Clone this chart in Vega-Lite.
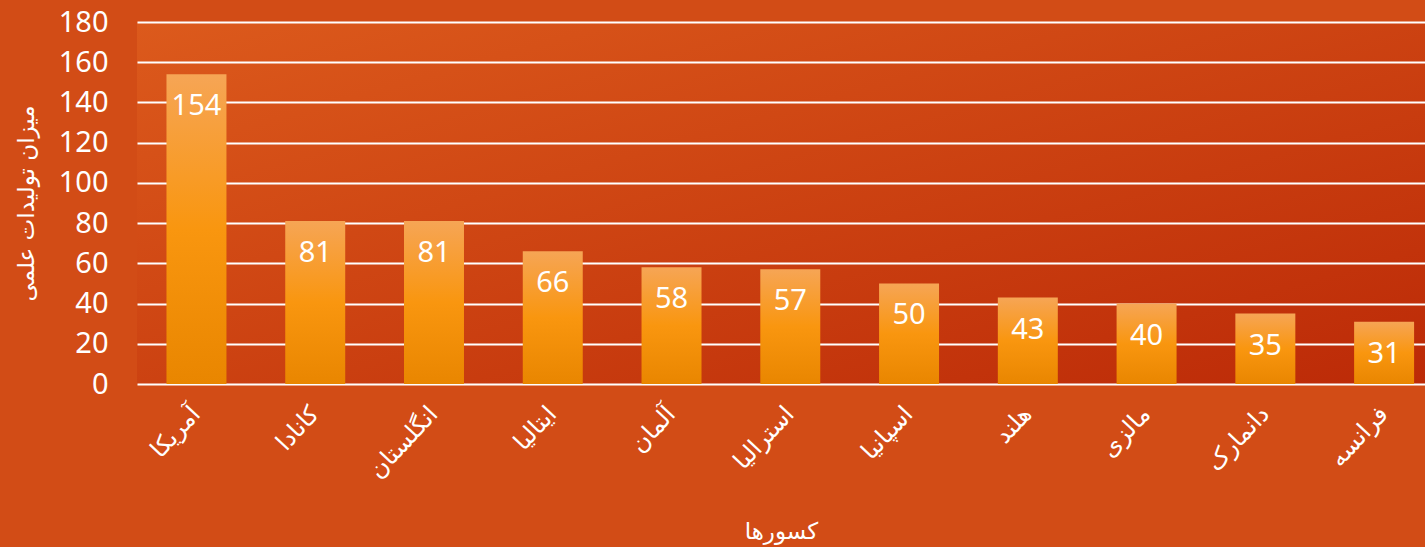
{
  "$schema": "https://vega.github.io/schema/vega-lite/v6.json",
  "width": 1288,
  "height": 362,
  "autosize": {"type": "none"},
  "padding": {"left": 137, "top": 22, "right": 0, "bottom": 163},
  "background": "#D24C16",
  "data": {
    "values": [
      {"country": "آمریکا", "value": 154},
      {"country": "کانادا", "value": 81},
      {"country": "انگلستان", "value": 81},
      {"country": "ایتالیا", "value": 66},
      {"country": "آلمان", "value": 58},
      {"country": "استرالیا", "value": 57},
      {"country": "اسپانیا", "value": 50},
      {"country": "هلند", "value": 43},
      {"country": "مالزی", "value": 40},
      {"country": "دانمارک", "value": 35},
      {"country": "فرانسه", "value": 31}
    ]
  },
  "encoding": {
    "x": {
      "field": "country",
      "type": "nominal",
      "sort": null,
      "scale": {"paddingInner": 0.495, "paddingOuter": 0.17, "align": 0.73},
      "axis": {
        "title": "کسورها",
        "labelAngle": -47,
        "labelAlign": "right",
        "labelBaseline": "middle",
        "labelPadding": 26,
        "ticks": false,
        "domain": false,
        "labelFont": "DejaVu Sans",
        "labelFontSize": 24,
        "labelColor": "white",
        "titleFont": "DejaVu Sans",
        "titleFontSize": 23,
        "titleFontWeight": "normal",
        "titleColor": "white",
        "titlePadding": 38
      }
    },
    "y": {
      "field": "value",
      "type": "quantitative",
      "scale": {"domain": [0, 180]},
      "axis": {
        "title": "میزان تولیدات علمی",
        "values": [0, 20, 40, 60, 80, 100, 120, 140, 160, 180],
        "ticks": false,
        "domain": false,
        "grid": true,
        "gridColor": "white",
        "gridWidth": 2,
        "gridOpacity": 1,
        "labelPadding": 29,
        "labelFont": "Noto Sans",
        "labelFontSize": 29,
        "labelColor": "white",
        "titleFont": "DejaVu Sans",
        "titleFontSize": 23,
        "titleFontWeight": "normal",
        "titleColor": "white",
        "titlePadding": 20
      }
    }
  },
  "layer": [
    {
      "mark": {
        "type": "bar",
        "color": {
          "gradient": "linear",
          "x1": 0, "y1": 0, "x2": 0, "y2": 1,
          "stops": [
            {"offset": 0, "color": "#F6A555"},
            {"offset": 0.5, "color": "#F9960F"},
            {"offset": 1, "color": "#E98600"}
          ]
        }
      }
    },
    {
      "mark": {
        "type": "text",
        "baseline": "middle",
        "dy": 32,
        "font": "Noto Sans",
        "fontSize": 29,
        "color": "white"
      },
      "encoding": {"text": {"field": "value", "type": "quantitative"}}
    }
  ],
  "config": {
    "view": {
      "stroke": null,
      "fill": {
        "gradient": "linear",
        "x1": 0, "y1": 0, "x2": 1, "y2": 1,
        "stops": [
          {"offset": 0, "color": "#DC5A1C"},
          {"offset": 1, "color": "#BC2A07"}
        ]
      }
    }
  }
}
